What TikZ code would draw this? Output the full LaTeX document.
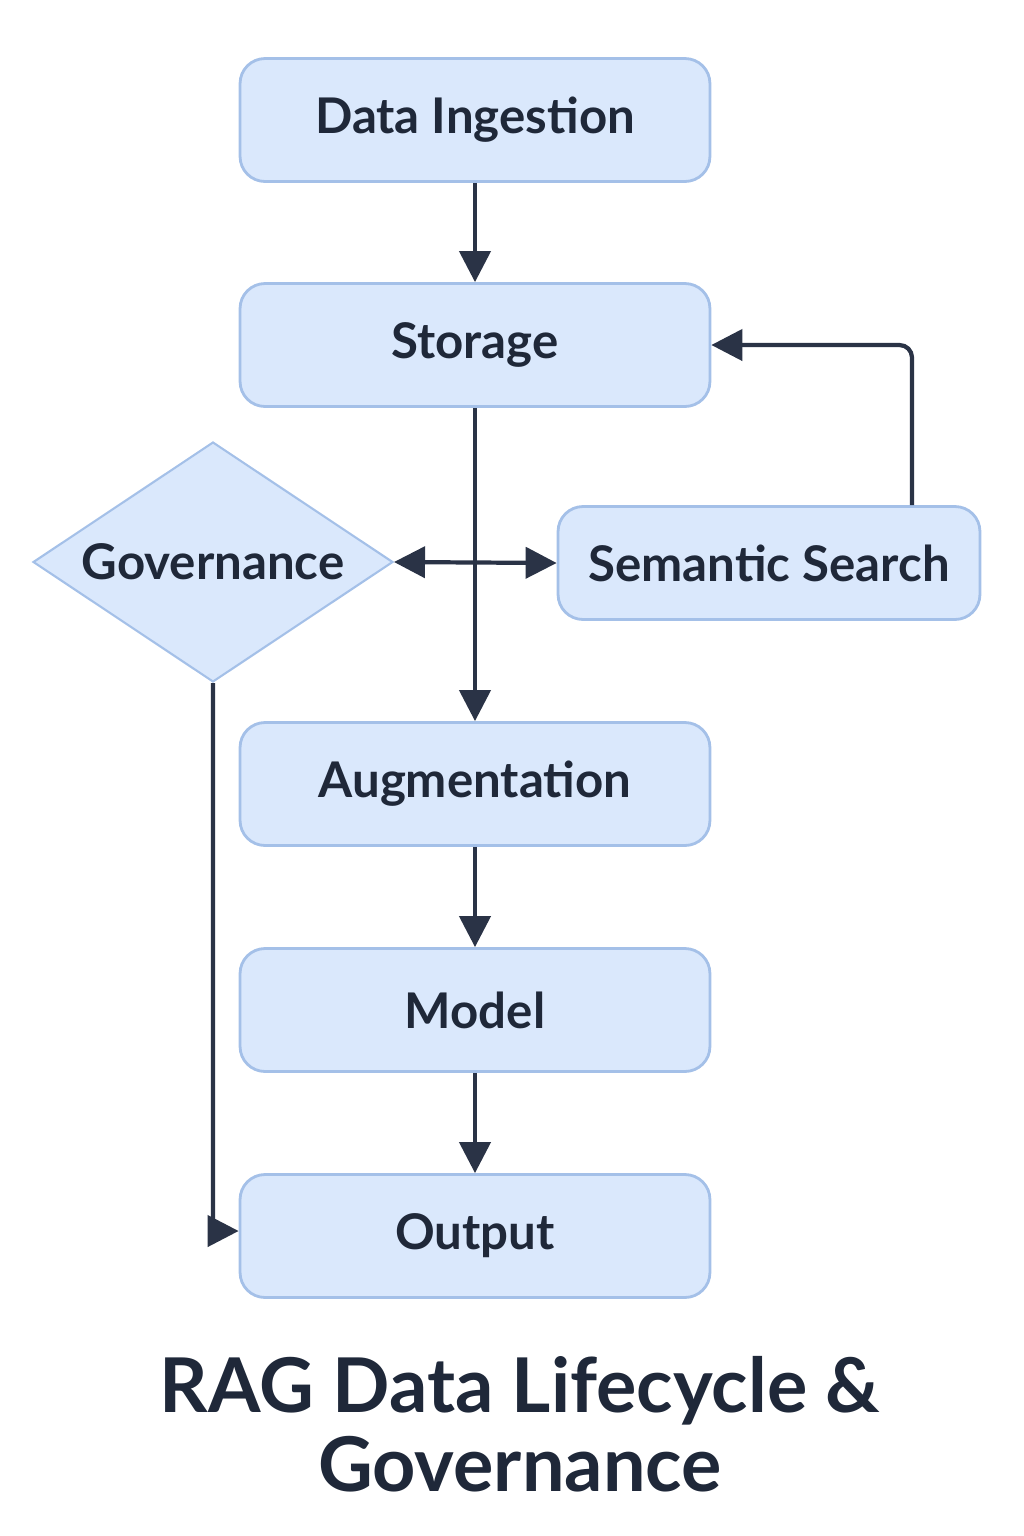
\documentclass[tikz,border=0pt]{standalone}
\usepackage{fontspec}
\setmainfont{Lato}
\usepackage{xcolor}
\usetikzlibrary{arrows.meta, positioning, shapes.geometric}

\definecolor{boxfill}{HTML}{DAE8FC}
\definecolor{boxline}{HTML}{A4C0E8}
\definecolor{inkdark}{HTML}{2A3346}
\definecolor{textdark}{HTML}{1F2839}

\tikzset{
  stagebox/.style={draw=boxline, line width=1.6pt, fill=boxfill, rounded corners=0.5cm,
    minimum width=9.4cm, minimum height=2.46cm, text=textdark,
    font=\fontsize{28}{32}\selectfont\bfseries},
  decision/.style={diamond, draw=boxline, line width=1.2pt, fill=boxfill, inner sep=0pt,
    minimum width=7.2cm, minimum height=4.8cm, text=textdark,
    font=\fontsize{28}{32}\selectfont\bfseries},
  flow/.style={draw=inkdark, line width=2.4pt, -{Triangle[length=0.62cm, width=0.62cm]}},
}

\begin{document}
\begin{tikzpicture}[x=0.02cm, y=-0.02cm]
      \useasboundingbox (0,0) rectangle (1024,1536);

      % Main stages
      \node[stagebox] (ingest) at (475,120) {Data Ingestion};
      \node[stagebox] (store) at (475,345) {Storage};
      \node[stagebox] (augment) at (475,784) {Augmentation};
      \node[stagebox] (model) at (475,1010) {Model};
      \node[stagebox] (output) at (475,1236) {Output};

      % Side nodes
      \node[stagebox, minimum width=8.44cm, minimum height=2.26cm] (search) at (769,563) {Semantic Search};
      \node[decision] (govern) at (213,562) {\makebox[0pt]{Governance}};

      % Main flow
      \draw[flow] (ingest) -- (store);
      \draw[flow] (store) -- (augment);
      \draw[flow] (augment) -- (model);
      \draw[flow] (model) -- (output);

      % Side connectors
      \draw[flow, {Triangle[length=0.62cm, width=0.62cm]}-{Triangle[length=0.62cm, width=0.62cm]}] (govern.east) -- (search.west);
      \draw[flow, rounded corners=0.25cm] (search.north -| 912,0) |- (store.east);
      \draw[flow, rounded corners=0.2cm] (govern.south) |- ([yshift=0.1cm]output.west);

      % Title
      \node[text=textdark, font=\fontsize{43}{45}\selectfont\bfseries, align=center] (title) at (520,1424)
        {RAG Data Lifecycle \&\\Governance};

\end{tikzpicture}
\end{document}
